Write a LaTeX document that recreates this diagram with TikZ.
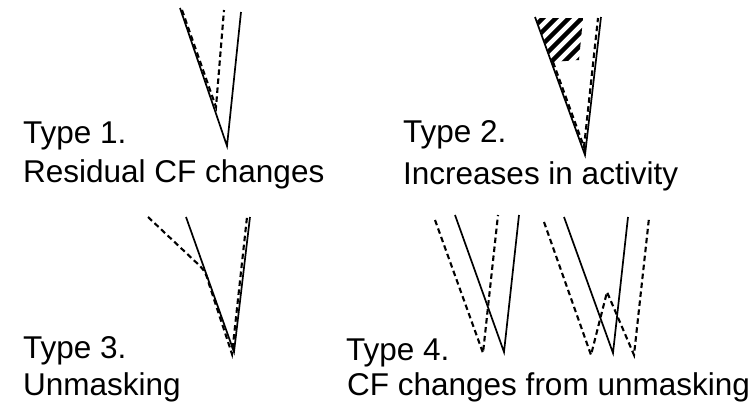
\documentclass[tikz,border=0pt]{standalone}
\usepackage{fontspec}
\setmainfont{Liberation Sans}
\begin{document}
\begin{tikzpicture}[x=1pt,y=-1pt,
  solidln/.style={line width=1.7pt,black},
  dashln/.style={line width=2.1pt,black,dash pattern=on 5.5pt off 3.5pt},
  lbl/.style={anchor=base west,inner sep=0pt,font=\fontsize{31.5}{36}\selectfont}]
\useasboundingbox (0,0) rectangle (755,407);
% Type 1
\draw[solidln] (180,8) -- (227,146) -- (241,12);
\draw[dashln] (182,10) -- (216,107) -- (224,10);
% Type 2
\begin{scope}
  \clip (536,18) -- (583,18) -- (579,60) -- (552,62) -- cycle;
  \foreach \c in {548,561,574,587,600,613,626,639}
    \draw[line width=4.5pt] (\c-100,100) -- (\c,0);
\end{scope}
\draw[solidln] (535,17) -- (585,155) -- (601,17);
\draw[dashln] (553,62) -- (584,147) -- (598,18);
% Type 3
\draw[solidln] (186,217) -- (234,352) -- (250,217);
\draw[dashln] (148,217) -- (200,266) .. controls (205,271) and (207,276) .. (209,284) -- (232,354) -- (247,217);
% Type 4 left
\draw[solidln] (455,215) -- (504,352) -- (519,215);
\draw[dashln] (435,220) -- (483,353) -- (498,215);
% Type 4 right
\draw[solidln] (564,217) -- (613,353) -- (628,217);
\draw[dashln] (544,222) -- (591,355) -- (607,292) -- (634,355) -- (649,218);
% labels
\node[lbl] (t1) at (23,143) {Type 1.};
\node[lbl] (d1) at (23,182) {Residual CF changes};
\node[lbl] (t2) at (403,142) {Type 2.};
\node[lbl] (d2) at (403,184) {Increases in activity};
\node[lbl] (t3) at (23,358) {Type 3.};
\node[lbl] (d3) at (23,395) {Unmasking};
\node[lbl] (t4) at (346,360) {Type 4.};
\node[lbl] (d4) at (347,395) {CF changes from unmasking};
\end{tikzpicture}
\end{document}
